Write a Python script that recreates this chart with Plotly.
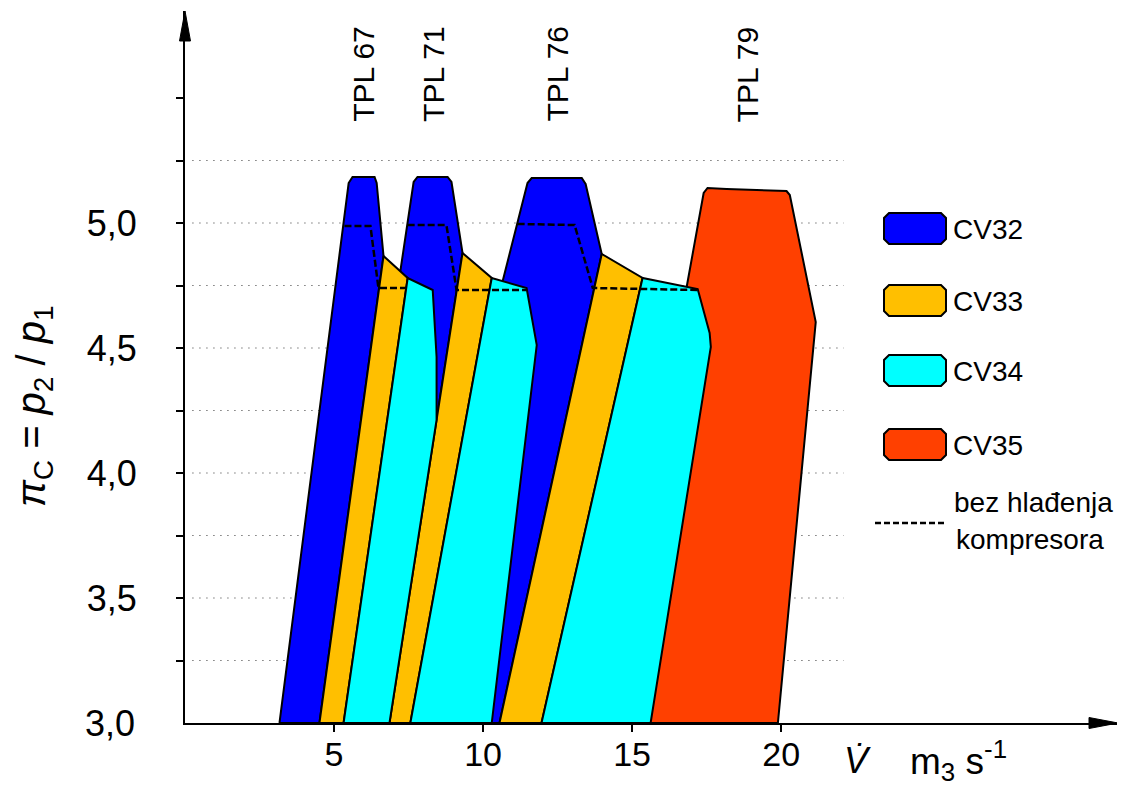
import plotly.graph_objects as go

# ---------------- data (x: volume flow m3/s, y: pressure ratio) ----------------
# CV32 (blue) regions
CV32_TPL67_X = [3.17, 5.49, 5.62, 6.36, 6.43, 6.66, 4.51]
CV32_TPL67_Y = [3.00, 5.16, 5.184, 5.184, 5.16, 4.868, 3.00]
CV32_TPL71_X = [7.13, 7.67, 7.80, 8.81, 8.94, 9.31, 8.44]
CV32_TPL71_Y = [4.732, 5.164, 5.184, 5.184, 5.164, 4.88, 4.212]
CV32_TPL76_X = [10.05, 10.65, 11.49, 11.63, 13.31, 13.44, 13.98, 10.55]
CV32_TPL76_Y = [3.00, 4.764, 5.16, 5.18, 5.18, 5.156, 4.876, 3.00]
# CV33 (orange) regions
CV33_TPL67_X = [4.51, 6.66, 7.47, 5.32]
CV33_TPL67_Y = [3.00, 4.868, 4.78, 3.00]
CV33_TPL71_X = [6.86, 9.31, 10.29, 7.56]
CV33_TPL71_Y = [3.00, 4.88, 4.78, 3.00]
CV33_TPL76_X = [10.55, 13.98, 15.35, 11.96]
CV33_TPL76_Y = [3.00, 4.876, 4.78, 3.00]
# CV34 (cyan) regions
CV34_TPL67_X = [5.32, 7.47, 8.31, 8.44, 8.44, 6.86]
CV34_TPL67_Y = [3.00, 4.78, 4.732, 4.464, 4.212, 3.00]
CV34_TPL71_X = [7.56, 10.29, 11.46, 11.80, 10.29]
CV34_TPL71_Y = [3.00, 4.78, 4.74, 4.512, 3.00]
CV34_TPL76_X = [11.96, 15.35, 17.20, 17.60, 17.64, 15.62]
CV34_TPL76_Y = [3.00, 4.78, 4.736, 4.56, 4.504, 3.00]
# CV35 (red) region
CV35_TPL79_X = [15.25, 16.83, 17.40, 17.53, 18.17, 19.45, 20.18, 20.29, 21.16, 19.89]
CV35_TPL79_Y = [3.00, 4.744, 5.12, 5.14, 5.136, 5.132, 5.128, 5.112, 4.604, 3.00]
# dashed limits without compressor cooling
NOCOOL_TPL67_X = [5.35, 6.22, 6.49, 7.43]
NOCOOL_TPL67_Y = [4.988, 4.988, 4.74, 4.74]
NOCOOL_TPL71_X = [7.47, 8.77, 9.11, 11.46]
NOCOOL_TPL71_Y = [4.992, 4.992, 4.732, 4.732]
NOCOOL_TPL76_X = [11.16, 13.07, 13.68, 17.20]
NOCOOL_TPL76_Y = [4.996, 4.992, 4.74, 4.732]

GRID_Y = [3.25, 3.5, 3.75, 4.0, 4.25, 4.5, 4.75, 5.0, 5.25]
GRID_X_RANGE = [0.25, 22.1]
Y_TICKS = [3.25, 3.5, 3.75, 4.0, 4.25, 4.5, 4.75, 5.0, 5.25, 5.5]
Y_TICK_TEXT = ["", "3,5", "", "4,0", "", "4,5", "", "5,0", "", ""]
X_TICKS = [5, 10, 15, 20]
X_TICK_TEXT = ["5", "10", "15", "20"]
TPL_LABELS = ["TPL 67", "TPL 71", "TPL 76", "TPL 79"]
TPL_LABEL_X = [6.0, 8.35, 12.5, 18.9]
LEGEND_NAMES = ["CV32", "CV33", "CV34", "CV35"]
COLORS = {"CV32": "#0000FF", "CV33": "#FFBF00", "CV34": "#00FFFF", "CV35": "#FF4000"}

# ---------------- layout geometry ----------------
# the page body adds an 8px offset, so the figure is drawn 8px smaller and
# all reference pixel positions are shifted by OFF
OFF = 8
WIDTH, HEIGHT = 1125 - OFF, 796 - OFF
PLOT_LEFT, PLOT_RIGHT, PLOT_TOP, PLOT_BOTTOM = 185, 1118, 11, 723   # reference px
L = PLOT_LEFT - OFF
R = WIDTH - (PLOT_RIGHT - OFF)
T = PLOT_TOP - OFF
B = HEIGHT - (PLOT_BOTTOM - OFF)
W = WIDTH - L - R
H = HEIGHT - T - B
XSCALE = (PLOT_RIGHT - PLOT_LEFT) / 31.3   # px per unit
YSCALE = 250.0                             # px per unit
FONT = "Liberation Sans, Arial"


def px(xp):
    return (xp - OFF - L) / W


def py(yp):
    return (HEIGHT - B - (yp - OFF)) / H


fig = go.Figure()

# grid (dotted)
for g in GRID_Y:
    fig.add_trace(go.Scatter(x=GRID_X_RANGE, y=[g, g], mode="lines",
                             line=dict(color="#333333", width=1, dash="1px,6px"),
                             hoverinfo="skip", showlegend=False))

polys = [
    ("CV35", CV35_TPL79_X, CV35_TPL79_Y),
    ("CV32", CV32_TPL67_X, CV32_TPL67_Y),
    ("CV32", CV32_TPL71_X, CV32_TPL71_Y),
    ("CV32", CV32_TPL76_X, CV32_TPL76_Y),
    ("CV33", CV33_TPL67_X, CV33_TPL67_Y),
    ("CV33", CV33_TPL71_X, CV33_TPL71_Y),
    ("CV33", CV33_TPL76_X, CV33_TPL76_Y),
    ("CV34", CV34_TPL67_X, CV34_TPL67_Y),
    ("CV34", CV34_TPL71_X, CV34_TPL71_Y),
    ("CV34", CV34_TPL76_X, CV34_TPL76_Y),
]
for name, xs, ys in polys:
    fig.add_trace(go.Scatter(x=xs + xs[:1], y=ys + ys[:1], mode="lines", fill="toself",
                             fillcolor=COLORS[name], line=dict(color="black", width=2),
                             name=name, hoverinfo="skip", showlegend=False))

for xs, ys in [(NOCOOL_TPL67_X, NOCOOL_TPL67_Y), (NOCOOL_TPL71_X, NOCOOL_TPL71_Y),
               (NOCOOL_TPL76_X, NOCOOL_TPL76_Y)]:
    fig.add_trace(go.Scatter(x=xs, y=ys, mode="lines",
                             line=dict(color="black", width=2.5, dash="7px,3px"),
                             hoverinfo="skip", showlegend=False))

shapes = []
# arrowheads
shapes.append(dict(type="path", xref="paper", yref="paper",
                   path=f"M{px(185)},{py(11)} L{px(179.5)},{py(41)} L{px(190.5)},{py(41)} Z",
                   fillcolor="black", line=dict(color="black", width=1)))
shapes.append(dict(type="path", xref="paper", yref="paper",
                   path=f"M{px(1118)},{py(723)} L{px(1089)},{py(717.5)} L{px(1089)},{py(728.5)} Z",
                   fillcolor="black", line=dict(color="black", width=1)))

# legend swatches
SW_TOP = [213, 285, 355, 429]
annotations = []
for name, top in zip(LEGEND_NAMES, SW_TOP):
    x0, x1, y0, y1, c = 884, 946, top, top + 31, 5
    pts = [(x0 + c, y0), (x1 - c, y0), (x1, y0 + c), (x1, y1 - c), (x1 - c, y1),
           (x0 + c, y1), (x0, y1 - c), (x0, y0 + c)]
    path = "M" + " L".join(f"{px(a)},{py(b)}" for a, b in pts) + " Z"
    shapes.append(dict(type="path", xref="paper", yref="paper", path=path,
                       fillcolor=COLORS[name], line=dict(color="black", width=2)))
    annotations.append(dict(xref="paper", yref="paper", x=px(951), y=py(top + 16),
                            xanchor="left", yanchor="middle", showarrow=False, text=name,
                            font=dict(family=FONT, size=28, color="black")))
shapes.append(dict(type="line", xref="paper", yref="paper", x0=px(875), x1=px(945),
                   y0=py(523), y1=py(523), line=dict(color="black", width=2.5, dash="6px,3px")))
annotations.append(dict(xref="paper", yref="paper", x=px(952), y=py(502), xanchor="left",
                        yanchor="middle", showarrow=False, text="bez hlađenja",
                        font=dict(family=FONT, size=28, color="black")))
annotations.append(dict(xref="paper", yref="paper", x=px(954), y=py(539), xanchor="left",
                        yanchor="middle", showarrow=False, text="kompresora",
                        font=dict(family=FONT, size=28, color="black")))

# TPL labels
for lab, lx in zip(TPL_LABELS, TPL_LABEL_X):
    annotations.append(dict(xref="x", yref="paper", x=lx, y=py(124), xanchor="center",
                            yanchor="bottom", textangle=-90, showarrow=False, text=lab,
                            font=dict(family=FONT, size=30, color="black")))

# y title
annotations.append(dict(xref="paper", yref="paper", x=px(34), y=py(406), xanchor="center",
                        yanchor="middle", textangle=-90, showarrow=False,
                        text="<i>π</i><sub>C</sub> = <i>p</i><sub>2</sub> / <i>p</i><sub>1</sub>",
                        font=dict(family=FONT, size=40, color="black")))
# 3,0 label
annotations.append(dict(xref="paper", yref="paper", x=px(137), y=py(723), xanchor="right",
                        yanchor="middle", showarrow=False, text="3,0",
                        font=dict(family=FONT, size=36, color="black")))
# x title
annotations.append(dict(xref="paper", yref="paper", x=px(857), y=py(760), xanchor="center",
                        yanchor="middle", showarrow=False, text="<i>V\u0307</i>",
                        font=dict(family=FONT, size=36, color="black")))
annotations.append(dict(xref="paper", yref="paper", x=px(908), y=py(760), xanchor="left",
                        yanchor="middle", showarrow=False, text="m<sub>3</sub> s<sup>-1</sup>",
                        font=dict(family=FONT, size=37, color="black")))

fig.update_layout(
    width=WIDTH, height=HEIGHT,
    margin=dict(l=L, r=R, t=T, b=B, pad=0, autoexpand=False),
    paper_bgcolor="white", plot_bgcolor="white",
    showlegend=False,
    shapes=shapes, annotations=annotations,
    xaxis=dict(range=[0, W / XSCALE], showgrid=False, zeroline=False, automargin=False,
               showline=True, linecolor="black", linewidth=2,
               tickvals=X_TICKS, ticktext=X_TICK_TEXT, ticks="outside", ticklen=7,
               tickwidth=1.5, tickcolor="black", ticklabelstandoff=-7,
               tickfont=dict(family=FONT, size=34, color="black")),
    yaxis=dict(range=[3, 3 + H / YSCALE], showgrid=False, zeroline=False, automargin=False,
               showline=True, linecolor="black", linewidth=2,
               tickvals=Y_TICKS, ticktext=Y_TICK_TEXT, ticks="outside", ticklen=7,
               tickwidth=1.5, tickcolor="black", ticklabelstandoff=32,
               tickfont=dict(family=FONT, size=36, color="black")),
)

fig.write_html("out.html")
